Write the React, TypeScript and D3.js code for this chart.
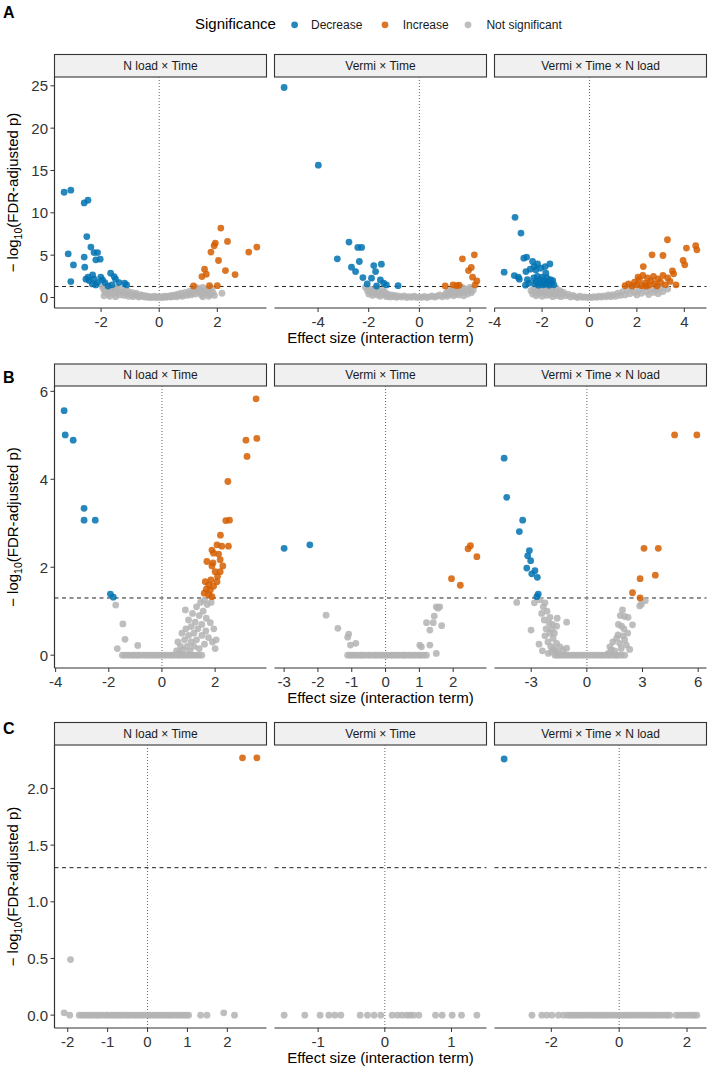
import * as d3 from "d3";

type Pt = [number, number];

const facetNames = ["N load × Time", "Vermi × Time", "Vermi × Time × N load"];
const sigNames = ["Decrease", "Increase", "Not significant"];
const sigColors = ["#0072B2", "#D55E00", "#B3B3B3"];
const fdrLine = 1.301; // -log10(0.05)

// ---------- A ----------
const a1Dec: Pt[] = [
  [-3.27, 12.43], [-3.04, 12.67], [-2.58, 11.17], [-2.45, 11.49], [-2.49, 7.2], [-3.13, 5.16],
  [-2.95, 3.85], [-3.04, 1.88], [-2.58, 4.77], [-2.56, 3.58], [-2.35, 5.95], [-2.24, 5.31],
  [-2.12, 5.31], [-2.03, 4.53], [-2.18, 4.45], [-2.52, 2.16], [-2.41, 2.0], [-2.29, 2.67],
  [-2.24, 2.16], [-2.12, 1.76], [-2.01, 2.4], [-1.95, 2.08], [-1.87, 1.76], [-1.67, 2.87],
  [-1.55, 2.47], [-1.5, 2.16], [-1.38, 1.76], [-1.19, 1.68], [-1.12, 1.48], [-2.18, 1.48],
  [-1.76, 1.36], [-2.45, 2.4], [-2.3, 1.6], [-1.62, 1.5],
];
const a1Inc: Pt[] = [
  [2.12, 8.2], [2.35, 6.62], [1.93, 6.43], [1.89, 6.11], [1.78, 5.36], [2.04, 4.37], [3.36, 5.95],
  [3.08, 5.36], [1.56, 3.35], [1.62, 2.75], [1.47, 2.47], [2.28, 3.18], [2.61, 2.71], [1.18, 1.36],
  [1.73, 1.4], [2.0, 1.4],
];
const a1Ns: Pt[] = [
  [-1.95, 1.2], [-1.9, 0.9], [-1.9, 0.2], [-1.85, 0.6], [-1.8, 1.25], [-1.75, 0.4], [-1.7, 0.95],
  [-1.7, 0.15], [-1.65, 0.7], [-1.6, 1.1], [-1.55, 0.45], [-1.5, 0.85], [-1.5, 0.1], [-1.45, 1.2],
  [-1.4, 0.6], [-1.35, 0.3], [-1.3, 0.95], [-1.25, 0.65], [-1.2, 0.25], [-1.15, 0.5], [-1.1, 0.8],
  [-1.05, 0.15], [-1.0, 0.4], [-0.95, 0.6], [-0.9, 0.1], [-0.85, 0.3], [-0.8, 0.5], [-0.75, 0.2],
  [-0.7, 0.05], [-0.65, 0.35], [-0.6, 0.15], [-0.55, 0.25], [-0.5, 0.05], [-0.45, 0.2], [-0.4, 0.02],
  [-0.35, 0.12], [-0.3, 0.0], [-0.25, 0.08], [-0.2, 0.03], [-0.15, 0.15], [-0.1, 0.0], [-0.05, 0.05],
  [0.0, 0.02], [0.05, 0.1], [0.1, 0.0], [0.15, 0.06], [0.2, 0.15], [0.25, 0.02], [0.3, 0.1],
  [0.35, 0.2], [0.4, 0.05], [0.45, 0.25], [0.5, 0.12], [0.55, 0.3], [0.6, 0.08], [0.65, 0.4],
  [0.7, 0.2], [0.75, 0.5], [0.8, 0.15], [0.85, 0.35], [0.9, 0.6], [0.95, 0.25], [1.0, 0.45],
  [1.05, 0.75], [1.1, 0.3], [1.15, 0.55], [1.2, 0.9], [1.25, 0.4], [1.3, 1.15], [1.35, 0.65],
  [1.4, 0.95], [1.45, 0.3], [1.5, 1.2], [1.5, 0.1], [1.55, 0.75], [1.6, 0.5], [1.65, 1.0],
  [1.7, 0.8], [1.7, 0.15], [1.75, 0.35], [1.8, 1.1], [1.85, 0.6], [1.9, 0.25], [2.16, 0.5],
];

const a2Dec: Pt[] = [
  [-5.34, 24.8], [-3.99, 15.63], [-2.78, 6.55], [-2.43, 5.91], [-2.28, 5.91], [-3.24, 4.57],
  [-2.37, 4.25], [-2.68, 3.58], [-2.52, 3.06], [-1.8, 3.77], [-1.5, 3.94], [-1.73, 3.06],
  [-2.23, 2.35], [-1.89, 2.28], [-1.54, 2.08], [-1.41, 1.68], [-2.06, 1.6], [-1.69, 1.36],
  [-1.3, 1.48], [-0.84, 1.4],
];
const a2Inc: Pt[] = [
  [1.7, 4.57], [2.17, 5.04], [2.05, 3.54], [1.94, 3.18], [2.1, 2.4], [2.27, 1.96], [2.2, 1.48],
  [1.02, 1.36], [1.33, 1.48], [1.57, 1.45], [1.48, 1.4],
];
const a2Ns: Pt[] = [
  [-2.13, 1.2], [-2.05, 0.8], [-2.0, 0.4], [-1.95, 1.0], [-1.9, 0.6], [-1.85, 0.25], [-1.8, 0.9],
  [-1.75, 0.5], [-1.7, 1.1], [-1.65, 0.3], [-1.6, 0.7], [-1.55, 0.15], [-1.5, 0.5], [-1.45, 0.9],
  [-1.4, 0.3], [-1.35, 0.6], [-1.3, 0.1], [-1.25, 0.4], [-1.2, 0.2], [-1.15, 0.05], [-1.1, 0.3],
  [-1.0, 0.1], [-0.95, 0.25], [-0.9, 0.02], [-0.8, 0.15], [-0.7, 0.05], [-0.6, 0.2], [-0.5, 0.0],
  [-0.4, 0.1], [-0.3, 0.03], [-0.2, 0.15], [-0.1, 0.0], [0.0, 0.06], [0.1, 0.02], [0.2, 0.12],
  [0.3, 0.0], [0.4, 0.08], [0.5, 0.2], [0.6, 0.05], [0.7, 0.15], [0.8, 0.3], [0.9, 0.08],
  [1.0, 0.25], [1.05, 0.5], [1.1, 0.15], [1.15, 0.8], [1.2, 0.35], [1.25, 0.6], [1.3, 1.0],
  [1.35, 0.2], [1.4, 0.75], [1.45, 0.45], [1.5, 1.1], [1.55, 0.3], [1.6, 0.85], [1.65, 0.55],
  [1.7, 1.2], [1.75, 0.2], [1.8, 0.65], [1.85, 1.0], [1.9, 0.4], [1.95, 0.8], [2.0, 1.2],
  [2.05, 0.55], [2.13, 0.9],
];

const a3Dec: Pt[] = [
  [-3.14, 9.47], [-2.89, 7.61], [-2.77, 4.65], [-2.65, 4.77], [-3.6, 2.99], [-3.17, 2.59],
  [-3.0, 2.4], [-2.96, 2.16], [-2.68, 3.06], [-2.5, 3.35], [-2.33, 3.65], [-2.19, 3.97],
  [-2.4, 4.25], [-2.26, 3.26], [-2.05, 3.46], [-1.87, 3.65], [-1.67, 3.97], [-1.84, 2.87],
  [-2.7, 1.45], [-2.62, 2.1], [-2.55, 1.7], [-2.35, 2.3], [-2.3, 1.6], [-2.25, 1.9], [-2.2, 2.5],
  [-2.15, 1.45], [-2.1, 2.1], [-2.05, 1.7], [-2.0, 2.4], [-1.95, 1.5], [-1.9, 2.0], [-1.85, 1.6],
  [-1.8, 2.3], [-1.75, 1.8], [-1.7, 1.45], [-1.65, 2.1], [-1.6, 1.7], [-1.55, 2.0], [-1.5, 1.5],
];
const a3Inc: Pt[] = [
  [3.29, 6.82], [2.64, 5.04], [3.1, 4.96], [4.09, 5.84], [4.48, 6.11], [4.53, 5.63], [3.95, 4.37],
  [4.02, 3.86], [2.27, 3.65], [3.5, 3.14], [1.5, 1.4], [1.65, 1.6], [1.8, 1.35], [1.9, 1.8],
  [2.0, 1.5], [2.1, 2.1], [2.2, 1.4], [2.25, 2.6], [2.35, 1.7], [2.45, 2.3], [2.5, 1.45],
  [2.6, 2.0], [2.7, 2.5], [2.75, 1.6], [2.85, 1.35], [2.9, 2.2], [3.0, 1.8], [3.1, 2.6],
  [3.2, 1.5], [3.3, 2.3], [3.4, 1.9], [3.55, 2.8], [3.65, 1.5], [2.4, 1.35], [2.05, 2.4],
];
const a3Ns: Pt[] = [
  [-2.47, 0.8], [-2.4, 0.4], [-2.35, 1.1], [-2.3, 0.6], [-2.25, 0.2], [-2.2, 0.9], [-2.15, 0.45],
  [-2.1, 1.25], [-2.05, 0.7], [-2.0, 0.15], [-1.95, 1.0], [-1.9, 0.5], [-1.85, 0.85], [-1.8, 0.25],
  [-1.75, 1.2], [-1.7, 0.6], [-1.65, 0.35], [-1.6, 0.95], [-1.55, 0.1], [-1.5, 0.7], [-1.45, 0.4],
  [-1.4, 1.1], [-1.35, 0.2], [-1.3, 0.55], [-1.25, 0.8], [-1.2, 0.1], [-1.15, 0.4], [-1.1, 0.6],
  [-1.0, 0.2], [-0.9, 0.4], [-0.8, 0.05], [-0.7, 0.25], [-0.6, 0.1], [-0.5, 0.0], [-0.4, 0.15],
  [-0.3, 0.02], [-0.2, 0.08], [-0.1, 0.0], [0.0, 0.05], [0.1, 0.0], [0.2, 0.1], [0.3, 0.02],
  [0.4, 0.15], [0.5, 0.05], [0.6, 0.2], [0.7, 0.08], [0.8, 0.3], [0.9, 0.1], [1.0, 0.35],
  [1.1, 0.15], [1.2, 0.5], [1.3, 0.25], [1.4, 0.7], [1.5, 0.3], [1.6, 0.9], [1.7, 0.45],
  [1.8, 1.1], [1.9, 0.6], [2.0, 0.3], [2.1, 0.9], [2.2, 0.5], [2.3, 1.2], [2.4, 0.7], [2.5, 0.35],
  [2.6, 1.0], [2.7, 0.6], [2.8, 0.9], [2.9, 0.45], [3.0, 1.15], [3.1, 0.7], [3.3, 1.0],
];

// ---------- B ----------
const b1Dec: Pt[] = [
  [-3.68, 5.56], [-3.64, 5.01], [-3.34, 4.89], [-2.93, 3.34], [-2.93, 3.07], [-2.51, 3.07],
  [-1.94, 1.39], [-1.83, 1.32],
];
const b1Inc: Pt[] = [
  [3.54, 5.83], [3.16, 4.89], [3.57, 4.93], [3.2, 4.52], [2.48, 3.95], [2.4, 3.06], [2.54, 3.07],
  [2.2, 2.73], [2.07, 2.51], [2.25, 2.48], [2.5, 2.48], [1.88, 2.39], [1.94, 2.32], [2.13, 2.3],
  [1.69, 2.13], [1.92, 2.1], [2.19, 2.17], [2.29, 2.03], [1.88, 2.03], [2.0, 1.9], [2.19, 1.9],
  [2.09, 1.79], [2.07, 1.67], [1.84, 1.71], [1.63, 1.67], [1.76, 1.6], [1.94, 1.57], [1.82, 1.48],
  [1.67, 1.5], [1.76, 1.37], [1.88, 1.33], [1.59, 1.41],
];
const b1Zero = [
  -1.49, -1.41, -1.3, -1.22, -1.1, -1.02, -0.91, -0.83, -0.7, -0.62, -0.51, -0.42, -0.31, -0.22,
  -0.12, -0.03, 0.08, 0.17, 0.29, 0.38, 0.47, 0.58, 0.66, 0.77, 0.86, 0.97, 1.06, 1.18, 1.27,
  1.39, 1.5,
];
const b1Ns: Pt[] = [
  [-1.74, 1.14], [-1.47, 0.71], [-1.39, 0.36], [-1.68, 0.15], [-0.91, 0.22],
  [0.55, 0.1], [0.6, 0.3], [0.65, 0.05], [0.7, 0.2], [0.75, 0.5], [0.8, 0.12], [0.85, 0.35],
  [0.88, 1.03], [0.9, 0.6], [0.95, 0.2], [1.0, 0.45], [1.0, 0.8], [1.05, 0.1], [1.1, 0.3],
  [1.1, 0.65], [1.15, 0.95], [1.2, 0.2], [1.2, 0.5], [1.25, 0.75], [1.3, 1.1], [1.3, 0.35],
  [1.35, 0.6], [1.4, 0.9], [1.4, 0.15], [1.45, 1.2], [1.5, 0.45], [1.5, 0.7], [1.55, 1.0],
  [1.6, 0.25], [1.6, 1.25], [1.65, 0.55], [1.67, 0.84], [1.7, 1.15], [1.75, 0.4], [1.82, 0.74],
  [1.85, 1.2], [1.9, 0.3], [2.04, 0.35], [1.95, 0.6], [2.0, 0.15],
  ...b1Zero.map((x): Pt => [x, 0]),
];

const b2Dec: Pt[] = [[-3.0, 2.43], [-2.24, 2.51]];
const b2Inc: Pt[] = [[2.51, 2.49], [2.44, 2.42], [2.7, 2.24], [1.95, 1.74], [2.21, 1.59]];
const b2Zero = [
  -1.12, -1.04, -0.97, -0.9, -0.83, -0.74, -0.68, -0.61, -0.52, -0.46, -0.37, -0.3, -0.23, -0.14,
  -0.08, 0.01, 0.07, 0.16, 0.22, 0.31, 0.37, 0.46, 0.53, 0.59, 0.68, 0.74, 0.83, 0.89, 0.98,
  1.04, 1.13, 1.21,
];
const b2Ns: Pt[] = [
  [-1.76, 0.91], [-1.41, 0.61], [-1.09, 0.48], [-1.12, 0.41], [-1.04, 0.23], [-0.88, 0.27],
  [1.5, 1.1], [1.6, 1.1], [1.55, 1.07], [1.44, 0.89], [1.21, 0.74], [1.66, 0.67], [1.41, 0.74],
  [1.31, 0.57], [1.01, 0.23], [1.06, 0.19], [1.31, 0.23], [1.5, 0.04],
  ...b2Zero.map((x): Pt => [x, 0]),
];

const b3Dec: Pt[] = [
  [-4.46, 4.48], [-4.32, 3.59], [-3.46, 3.07], [-3.64, 2.81], [-3.1, 2.38], [-3.19, 2.26],
  [-3.03, 2.15], [-3.24, 1.98], [-2.97, 1.85], [-2.8, 1.92], [-2.67, 1.77], [-2.62, 1.39],
  [-2.7, 1.33],
];
const b3Inc: Pt[] = [
  [4.73, 5.01], [5.93, 5.01], [3.08, 2.43], [3.85, 2.43], [3.69, 1.82], [2.87, 1.74], [2.46, 1.42],
  [2.87, 1.3],
];
const b3Zero = [
  -1.72, -1.58, -1.46, -1.3, -1.17, -1.01, -0.86, -0.71, -0.56, -0.41, -0.24, -0.11, 0.06, 0.19,
  0.36, 0.49, 0.66, 0.81, 0.94, 1.11, 1.24, 1.41, 1.56, 1.69, 1.86, 2.04,
];
const b3Ns: Pt[] = [
  [-3.78, 1.2], [-2.83, 1.19], [-2.53, 1.26], [-2.26, 1.19], [-2.35, 1.1], [-2.44, 0.95],
  [-1.99, 0.86], [-1.6, 0.84], [-2.03, 0.73], [-1.9, 0.59], [-1.63, 0.66], [-1.09, 0.75],
  [-3.01, 0.57], [-2.26, 0.44], [-1.82, 0.38], [-1.63, 0.27], [-1.45, 0.19], [-1.27, 0.12],
  [-1.09, 0.16], [-2.58, 0.25], [-2.08, 0.04], [-1.9, 0.08], [-2.2, 0.6], [-2.1, 0.3], [-2.0, 0.5],
  [-1.95, 0.2], [-1.85, 0.7], [-1.8, 0.15], [-1.75, 0.5], [-1.7, 0.1], [-2.3, 0.8], [-2.15, 1.0],
  [-1.55, 0.05], [-2.4, 0.1],
  [3.15, 1.24], [2.85, 1.12], [2.94, 1.16], [1.92, 1.03], [2.04, 0.88], [2.22, 0.86], [1.87, 0.66],
  [2.46, 0.69], [1.68, 0.46], [1.95, 0.44], [2.04, 0.35], [1.6, 0.38], [1.77, 0.27], [2.13, 0.23],
  [2.31, 0.13], [1.24, 0.19], [1.33, 0.12], [1.15, 0.04], [1.7, 0.7], [1.85, 0.15], [2.0, 0.6],
  [1.5, 0.1], [1.4, 0.3], [2.2, 0.5], [1.8, 0.9],
  ...b3Zero.map((x): Pt => [x, 0]),
];

// ---------- C ----------
const c1Dec: Pt[] = [];
const c1Inc: Pt[] = [[2.38, 2.27], [2.74, 2.27]];
const c1Zero = [
  -1.95, -1.71, -1.64, -1.58, -1.5, -1.45, -1.38, -1.31, -1.25, -1.19, -1.12, -1.04, -0.99, -0.91,
  -0.85, -0.78, -0.72, -0.66, -0.59, -0.52, -0.47, -0.4, -0.33, -0.27, -0.2, -0.14, -0.06, 0.01,
  0.07, 0.15, 0.21, 0.28, 0.34, 0.42, 0.48, 0.55, 0.61, 0.69, 0.76, 0.83, 0.9, 0.97, 1.03, 1.33,
  1.49, 2.18,
];
const c1Ns: Pt[] = [[-1.93, 0.49], [-2.09, 0.02], [1.91, 0.02], ...c1Zero.map((x): Pt => [x, 0])];

const c2Dec: Pt[] = [];
const c2Inc: Pt[] = [];
const c2Zero = [
  -1.51, -1.2, -0.97, -0.84, -0.75, -0.66, -0.37, -0.26, -0.16, -0.06, 0.11, 0.19, 0.26, 0.33,
  0.38, 0.43, 0.51, 0.76, 0.86, 1.01, 1.15, 1.38,
];
const c2Ns: Pt[] = c2Zero.map((x): Pt => [x, 0]);

const c3Dec: Pt[] = [[-3.39, 2.26]];
const c3Inc: Pt[] = [];
const c3Zero = [
  -2.57, -2.28, -2.13, -1.98, -1.79, -1.64, -1.52, -1.44, -1.35, -1.27, -1.18, -1.1, -1.02, -0.93,
  -0.85, -0.76, -0.69, -0.6, -0.52, -0.43, -0.36, -0.27, -0.19, -0.1, -0.02, 0.07, 0.15, 0.23,
  0.32, 0.4, 0.49, 0.57, 0.66, 0.74, 0.83, 0.91, 1.0, 1.08, 1.17, 1.25, 1.34, 1.42, 1.49, 1.68,
  1.77, 1.86, 1.95, 2.04, 2.13, 2.21, 2.29,
];
const c3Ns: Pt[] = c3Zero.map((x): Pt => [x, 0]);

// ticks
const aYTicks = [0, 5, 10, 15, 20, 25];
const bYTicks = [0, 2, 4, 6];
const cYTicks = [0, 0.5, 1, 1.5, 2];
const aXTicks = [[-2, 0, 2], [-4, -2, 0, 2], [-4, -2, 0, 2, 4]];
const bXTicks = [[-4, -2, 0, 2], [-3, -2, -1, 0, 1, 2], [-3, 0, 3, 6]];
const cXTicks = [[-2, -1, 0, 1, 2], [-1, 0, 1], [-2, 0, 2]];

const rows = [
  {
    label: "A",
    facets: [[a1Dec, a1Inc, a1Ns], [a2Dec, a2Inc, a2Ns], [a3Dec, a3Inc, a3Ns]],
    yTicks: aYTicks, xTicks: aXTicks, fmt: (d: number) => String(d),
  },
  {
    label: "B",
    facets: [[b1Dec, b1Inc, b1Ns], [b2Dec, b2Inc, b2Ns], [b3Dec, b3Inc, b3Ns]],
    yTicks: bYTicks, xTicks: bXTicks, fmt: (d: number) => String(d),
  },
  {
    label: "C",
    facets: [[c1Dec, c1Inc, c1Ns], [c2Dec, c2Inc, c2Ns], [c3Dec, c3Inc, c3Ns]],
    yTicks: cYTicks, xTicks: cXTicks, fmt: (d: number) => d.toFixed(1),
  },
];

// layout
const W = 709;
const H = 1068;
const FONT = "'Liberation Sans', Arial, Helvetica, sans-serif";
const panelLeft = 54.5;
const panelW = 212;
const panelGap = 8;
const R = 3.4;
const boxes = [
  { stripTop: 54.5, plotTop: 77, plotBottom: 308, labelY: 18 },
  { stripTop: 364, plotTop: 386, plotBottom: 668, labelY: 383 },
  { stripTop: 722.5, plotTop: 745, plotBottom: 1028, labelY: 734 },
];

function expand(vals: number[]): [number, number] {
  const [lo, hi] = d3.extent(vals) as [number, number];
  const p = (hi - lo) * 0.05;
  return [lo - p, hi + p];
}

function Row({ row, box }: { row: (typeof rows)[number]; box: (typeof boxes)[number] }) {
  const allPts = row.facets.flat(2) as Pt[];
  const y = d3.scaleLinear().domain(expand(allPts.map((p) => p[1]))).range([box.plotBottom, box.plotTop]);
  const midY = (box.plotTop + box.plotBottom) / 2;

  return (
    <g>
      <text x={3} y={box.labelY} fontSize={16} fontWeight="bold" fill="#000">{row.label}</text>

      {/* y axis */}
      <line x1={panelLeft} x2={panelLeft} y1={box.plotTop} y2={box.plotBottom} stroke="#333" strokeWidth={1.2} />
      {row.yTicks.map((t) => (
        <g key={t} transform={`translate(0,${y(t)})`}>
          <line x1={panelLeft - 4} x2={panelLeft} stroke="#333" strokeWidth={1} />
          <text x={panelLeft - 6.5} dy="0.36em" textAnchor="end" fontSize={15} fill="#333">{row.fmt(t)}</text>
        </g>
      ))}
      <text transform={`translate(17.5,${midY}) rotate(-90)`} textAnchor="middle" fontSize={15} fill="#000">
        {"− log"}
        <tspan fontSize={10.5} dy={4}>10</tspan>
        <tspan dy={-4}>(FDR-adjusted p)</tspan>
      </text>

      {row.facets.map((sets, i) => {
        const left = panelLeft + i * (panelW + panelGap);
        const pts = (sets as Pt[][]).flat();
        const x = d3.scaleLinear().domain(expand(pts.map((p) => p[0]))).range([left, left + panelW]);
        const [d0, d1] = x.domain();
        const ticks = row.xTicks[i].filter((t) => t >= d0 && t <= d1);
        return (
          <g key={i}>
            <rect x={left} y={box.stripTop} width={panelW} height={box.plotTop - box.stripTop}
              fill="#F0F0F0" stroke="#333" strokeWidth={1.1} />
            <text x={left + panelW / 2} y={(box.stripTop + box.plotTop) / 2 + 4.2} textAnchor="middle"
              fontSize={12} fill="#1a1a1a">{facetNames[i]}</text>

            <line x1={x(0)} x2={x(0)} y1={box.plotTop} y2={box.plotBottom} stroke="#666"
              strokeWidth={1} strokeDasharray="1 2" />
            <line x1={left} x2={left + panelW} y1={y(fdrLine)} y2={y(fdrLine)} stroke="#222"
              strokeWidth={1} strokeDasharray="4 3.5" />

            {[2, 0, 1].map((s) => (
              <g key={s} fill={sigColors[s]} fillOpacity={0.85}>
                {(sets[s] as Pt[]).map((p, k) => (
                  <circle key={k} cx={x(p[0])} cy={y(p[1])} r={R} />
                ))}
              </g>
            ))}

            <line x1={left} x2={left + panelW} y1={box.plotBottom} y2={box.plotBottom} stroke="#333" strokeWidth={1.2} />
            {ticks.map((t) => (
              <g key={t} transform={`translate(${x(t)},${box.plotBottom})`}>
                <line y1={0} y2={4} stroke="#333" strokeWidth={1} />
                <text y={18.5} textAnchor="middle" fontSize={15} fill="#333">{String(t)}</text>
              </g>
            ))}
          </g>
        );
      })}

      <text x={panelLeft + (3 * panelW + 2 * panelGap) / 2} y={box.plotBottom + 35} textAnchor="middle"
        fontSize={15} fill="#000">Effect size (interaction term)</text>
    </g>
  );
}

function Legend() {
  const dotX = [294.6, 385, 468];
  const textX = [311, 402.7, 486.4];
  return (
    <g>
      <text x={195} y={29} fontSize={15} fill="#000">Significance</text>
      {sigNames.map((n, i) => (
        <g key={n}>
          <circle cx={dotX[i]} cy={24.8} r={R} fill={sigColors[i]} fillOpacity={0.85} />
          <text x={textX[i]} y={28.8} fontSize={12} fill="#1a1a1a">{n}</text>
        </g>
      ))}
    </g>
  );
}

export default function App() {
  return (
    <svg width={W} height={H} viewBox={`0 0 ${W} ${H}`} fontFamily={FONT}
      style={{ position: "absolute", left: 0, top: 0, background: "#fff" }}>
      <rect width={W} height={H} fill="#fff" />
      <Legend />
      {rows.map((r, i) => (
        <Row key={r.label} row={r} box={boxes[i]} />
      ))}
    </svg>
  );
}
